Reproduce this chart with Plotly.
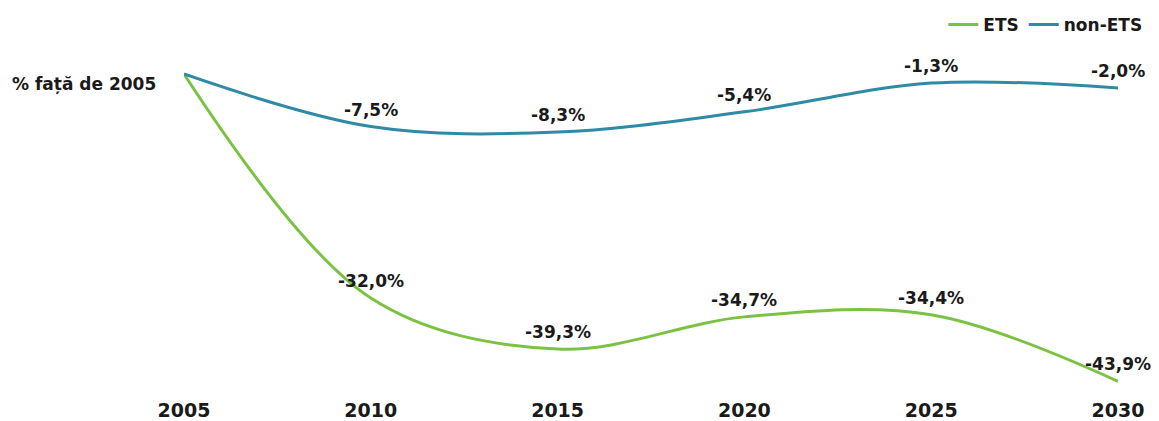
import plotly.graph_objects as go

years = [2005, 2010, 2015, 2020, 2025, 2030]
ets = [0.0, -32.0, -39.3, -34.7, -34.4, -43.9]
non_ets = [0.0, -7.5, -8.3, -5.4, -1.3, -2.0]

ETS_COLOR = "#7cc242"
NON_ETS_COLOR = "#2f8aa5"
FONT = "DejaVu Sans"
TEXT_COLOR = "#1a1a1a"


def pct_label(v):
    # Romanian decimal comma
    return f"<b>{v:.1f}%</b>".replace(".", ",")


fig = go.Figure()

for name, values, color in [("ETS", ets, ETS_COLOR), ("non-ETS", non_ets, NON_ETS_COLOR)]:
    fig.add_trace(
        go.Scatter(
            x=years,
            y=values,
            name=f"<b>{name}</b>",
            mode="lines",
            line=dict(color=color, width=3, shape="spline", smoothing=1),
            hoverinfo="skip",
        )
    )
    # value labels just above each point, skipping the base year
    for x, v in zip(years, values):
        if v == 0:
            continue
        fig.add_annotation(
            x=x,
            y=v,
            text=pct_label(v),
            showarrow=False,
            yanchor="middle",
            yshift=17,
            font=dict(family=FONT, size=17, color=TEXT_COLOR),
        )

fig.add_annotation(
    x=2005,
    y=0,
    text="<b>% față de 2005</b>",
    showarrow=False,
    xanchor="right",
    xshift=-26,
    yshift=-10,
    font=dict(family=FONT, size=17, color=TEXT_COLOR),
)

# fixed margins: the legend must not push the plot area down
fig.update_layout(
    width=1159,
    height=421,
    margin=dict(l=176, r=49, t=52, b=34, autoexpand=False),
    paper_bgcolor="white",
    plot_bgcolor="white",
    font=dict(family=FONT, color=TEXT_COLOR),
    showlegend=True,
    legend=dict(
        orientation="h",
        xref="container",
        yref="container",
        x=0.983,
        xanchor="right",
        y=0.96,
        yanchor="middle",
        font=dict(family=FONT, size=17, color=TEXT_COLOR),
        bgcolor="rgba(0,0,0,0)",
        tracegroupgap=0,
    ),
)

fig.update_xaxes(
    range=[2005, 2030],
    tickvals=years,
    ticktext=[f"<b>{y}</b>" for y in years],
    tickfont=dict(family=FONT, size=19, color=TEXT_COLOR),
    ticklabelstandoff=2,
    automargin=False,
    showgrid=False,
    zeroline=False,
    showline=False,
    ticks="",
)

fig.update_yaxes(
    range=[-45.86, 2],
    automargin=False,
    showgrid=False,
    zeroline=False,
    showline=False,
    showticklabels=False,
    ticks="",
)

fig.write_html("out.html")
